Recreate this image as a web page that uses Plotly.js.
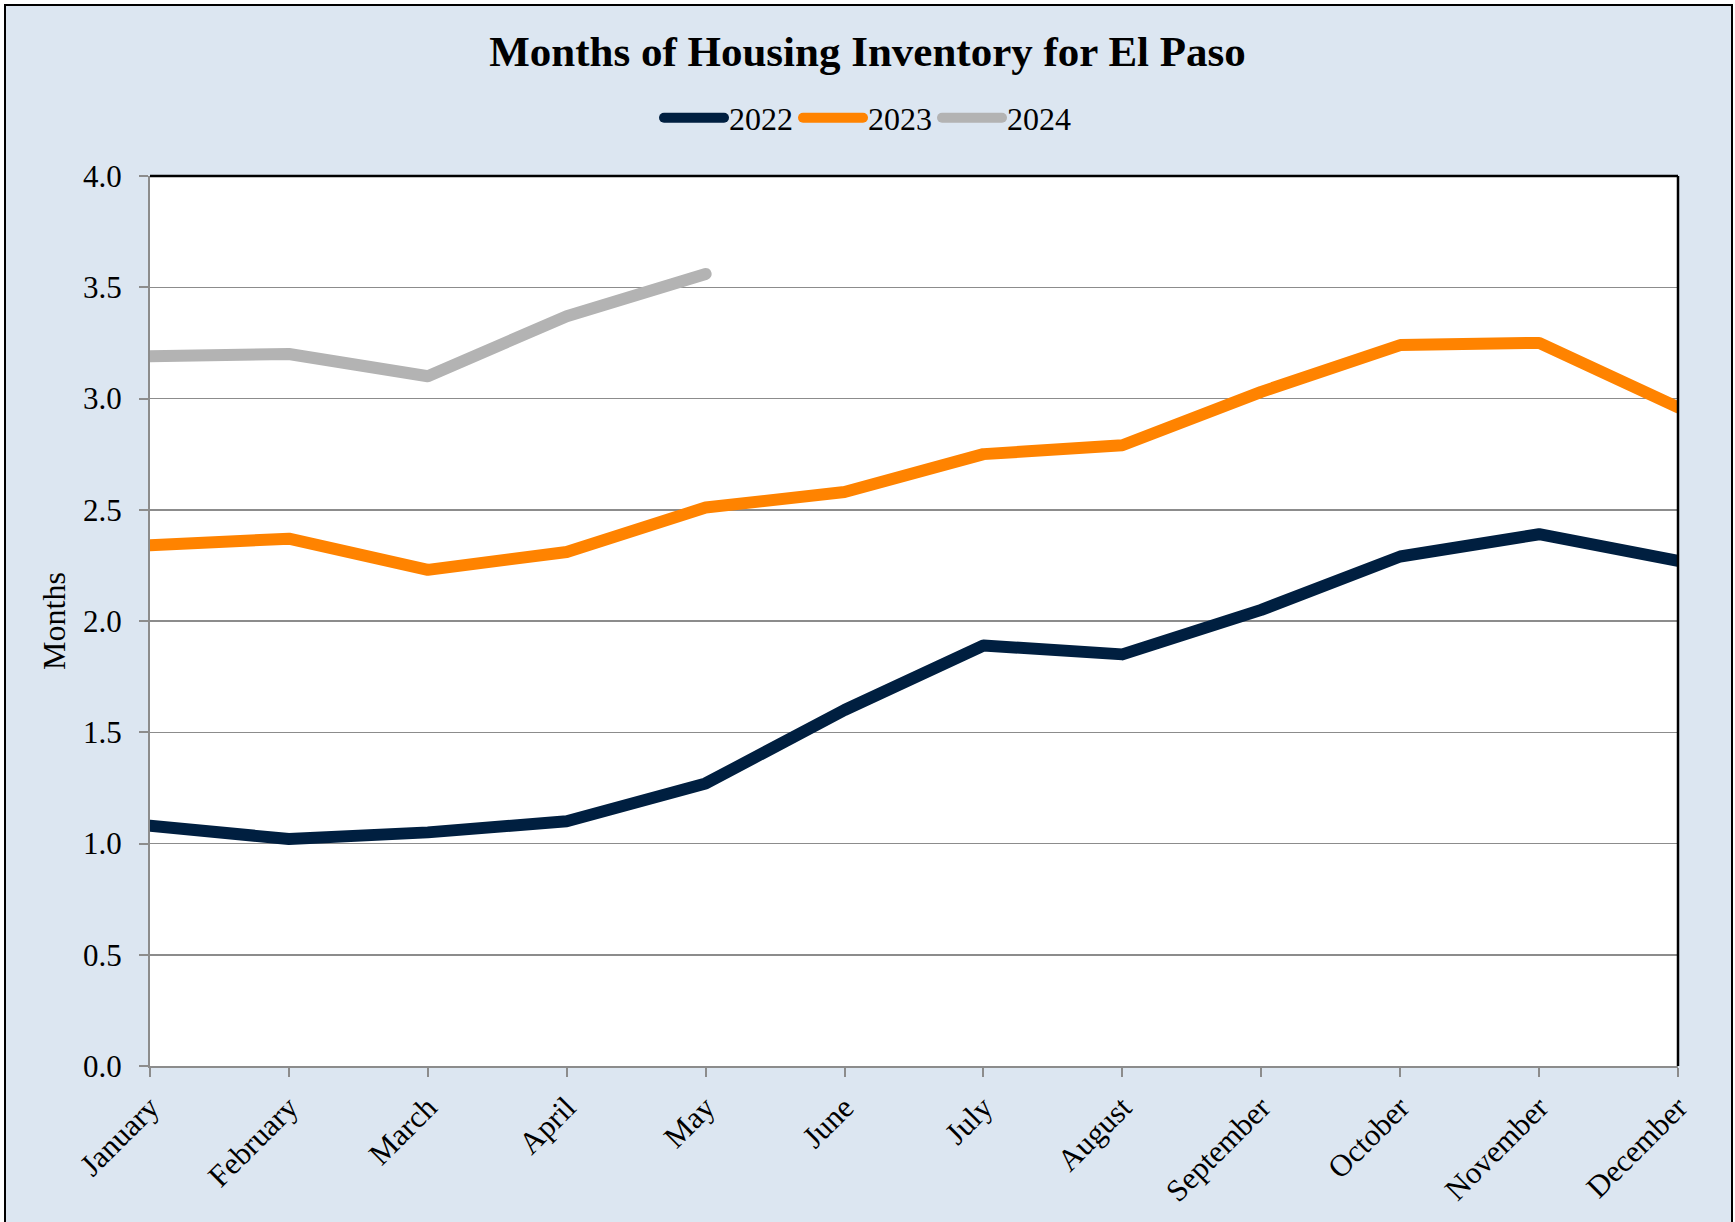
<!DOCTYPE html>
<html>
<head>
<meta charset="utf-8">
<script src="https://cdn.plot.ly/plotly-3.0.1.min.js"></script>
<style>
  html, body { margin: 0; padding: 0; background: #ffffff; width: 1735px; height: 1222px; overflow: hidden; }
  #frame { position: absolute; left: 4px; top: 4px; width: 1729px; height: 1240px; box-sizing: border-box;
           border: 2px solid #000; background: #dce6f1; }
  #chart { position: absolute; left: 0; top: 0; width: 1735px; height: 1222px; }
  #chart path.js-line { stroke-linecap: round; stroke-linejoin: round; }
</style>
</head>
<body>
<div id="frame"></div>
<div id="chart"></div>
<script>
const months = ["January","February","March","April","May","June","July","August","September","October","November","December"];
const y2022 = [1.08, 1.02, 1.05, 1.10, 1.27, 1.60, 1.89, 1.85, 2.05, 2.29, 2.39, 2.27];
const y2023 = [2.34, 2.37, 2.23, 2.31, 2.51, 2.58, 2.75, 2.79, 3.03, 3.24, 3.25, 2.96];
const y2024 = [3.19, 3.20, 3.10, 3.37, 3.56];
const months2024 = months.slice(0, y2024.length);

const FONT = "Liberation Serif, Times New Roman, serif";

const traces = [
  {x: months, y: y2022, name: "2022", type: "scatter", mode: "lines",
   line: {color: "#001f40", width: 12}},
  {x: months, y: y2023, name: "2023", type: "scatter", mode: "lines",
   line: {color: "#ff8300", width: 12}},
  {x: months2024, y: y2024, name: "2024", type: "scatter", mode: "lines",
   line: {color: "#b3b3b3", width: 12}}
];

const layout = {
  width: 1735, height: 1222,
  paper_bgcolor: "rgba(0,0,0,0)",
  plot_bgcolor: "#ffffff",
  margin: {l: 150, r: 57, t: 176, b: 156},
  font: {family: FONT, color: "#000", size: 31},
  title: {text: "<b>Months of Housing Inventory for El Paso</b>", font: {family: FONT, size: 43, color: "#000"},
          x: 0.5, xanchor: "center", xref: "container", y: 1 - 51/1222, yanchor: "middle", yref: "container"},
  showlegend: true,
  legend: {orientation: "h", xref: "container", yref: "container", x: 0.5, xanchor: "center",
           y: 1 - 118/1222, yanchor: "middle", font: {family: FONT, size: 32, color: "#000"},
           bgcolor: "rgba(0,0,0,0)", itemwidth: 60, tracegroupgap: 0},
  xaxis: {type: "category", range: [0, 11], tickangle: -45, ticks: "outside", ticklen: 9, tickcolor: "#8c8c8c",
          tickwidth: 2, showline: true, linecolor: "#8c8c8c", linewidth: 2, showgrid: false, zeroline: false,
          tickfont: {family: FONT, size: 31, color: "#000"}, fixedrange: true},
  yaxis: {range: [0, 4], dtick: 0.5, tick0: 0, tickformat: ".1f", ticks: "outside", ticklen: 9,
          tickcolor: "#8c8c8c", tickwidth: 2, showline: true, linecolor: "#8c8c8c", linewidth: 2,
          showgrid: true, gridcolor: "#8c8c8c", gridwidth: 1.5, zeroline: false, ticklabelstandoff: 11,
          tickfont: {family: FONT, size: 31, color: "#000"},
          title: {text: "Months", font: {family: FONT, size: 32, color: "#000"}, standoff: 8}},
  shapes: [
    {type: "line", xref: "paper", yref: "paper", x0: 0, x1: 1, y0: 1, y1: 1, line: {color: "#000", width: 2.5}},
    {type: "line", xref: "paper", yref: "paper", x0: 1, x1: 1, y0: 0, y1: 1, line: {color: "#000", width: 2.5}}
  ]
};

Plotly.newPlot("chart", traces, layout, {displayModeBar: false, staticPlot: true});
</script>
</body>
</html>
